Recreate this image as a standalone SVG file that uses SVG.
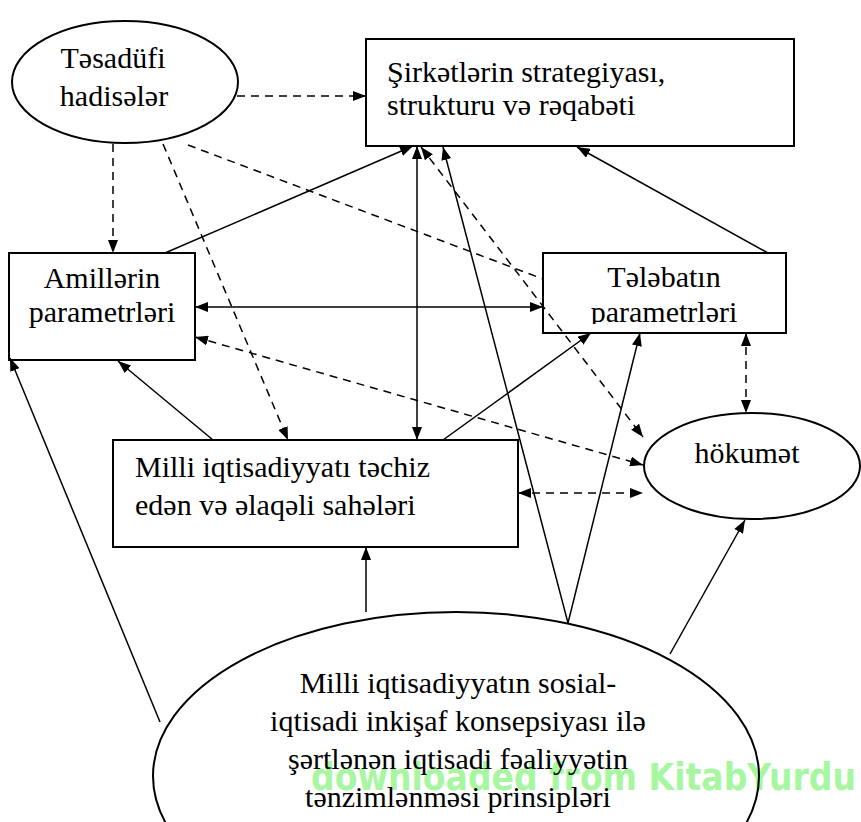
<svg xmlns="http://www.w3.org/2000/svg" width="861" height="822" viewBox="0 0 861 822">
<defs>
<style>
.shape{fill:#fff;stroke:#000;stroke-width:2}
.t{font-family:'Liberation Serif','Times New Roman',serif;font-size:30px;fill:#000}
.c{text-anchor:middle}
.ln{fill:none;stroke:#000;stroke-width:1.5}
.d{stroke-dasharray:8 6}
.wm{font-family:'DejaVu Sans',sans-serif;font-weight:bold;font-size:37px;fill:#a6f7a0}
</style>
<marker id="ah" viewBox="0 0 13 10" refX="13" refY="5" markerWidth="13" markerHeight="10" markerUnits="userSpaceOnUse" orient="auto-start-reverse">
<path d="M0,0 L13,5 L0,10 z" fill="#000"/>
</marker>
<clipPath id="clipT"><rect x="543" y="253" width="243" height="71"/></clipPath>
</defs>
<rect width="861" height="822" fill="#fff"/>

<text class="wm" x="311" y="790" textLength="545" lengthAdjust="spacingAndGlyphs">downloaded from KitabYurdu</text>

<g id="n-tesadufi">
<ellipse class="shape" cx="125" cy="82" rx="113" ry="61"/>
<text class="t c" x="113" y="68">Təsadüfi</text>
<text class="t c" x="114" y="106">hadisələr</text>
</g>

<g id="n-sirketler">
<rect class="shape" x="366" y="39" width="428" height="107"/>
<text class="t" x="387" y="82">Şirkətlərin strategiyası,</text>
<text class="t" x="387" y="115">strukturu və rəqabəti</text>
</g>

<g id="n-amiller">
<rect class="shape" x="9" y="253" width="186" height="107"/>
<text class="t c" x="102" y="288">Amillərin</text>
<text class="t c" x="102" y="322">parametrləri</text>
</g>

<g id="n-telebat">
<rect class="shape" x="543" y="253" width="243" height="80"/>
<g clip-path="url(#clipT)">
<text class="t c" x="664" y="287">Tələbatın</text>
<text class="t c" x="664" y="322">parametrləri</text>
</g>
</g>

<g id="n-milli-sahe">
<rect class="shape" x="113" y="440" width="405" height="107"/>
<text class="t" x="135" y="477">Milli iqtisadiyyatı təchiz</text>
<text class="t" x="135" y="515">edən və əlaqəli sahələri</text>
</g>

<g id="n-hokumet">
<ellipse class="shape" cx="752" cy="466" rx="108" ry="53"/>
<text class="t c" x="747" y="463">hökumət</text>
</g>

<g id="n-prinsipler">
<ellipse cx="456" cy="776" rx="303" ry="164" fill="none" stroke="#000" stroke-width="2"/>
<text class="t c" x="458" y="693">Milli iqtisadiyyatın sosial-</text>
<text class="t c" x="458" y="731">iqtisadi inkişaf konsepsiyası ilə</text>
<text class="t c" x="458" y="769">şərtlənən iqtisadi  fəaliyyətin</text>
<text class="t c" x="458" y="807">tənzimlənməsi prinsipləri</text>
</g>

<g id="connectors">
<path class="ln d" d="M237,96 H366" marker-end="url(#ah)"/>
<path class="ln d" d="M113,144 V253" marker-end="url(#ah)"/>
<path class="ln d" d="M163,144 L288,440" marker-end="url(#ah)"/>
<path class="ln d" d="M188,145 L543,279"/>
<path class="ln" d="M165,253 L413,146" marker-end="url(#ah)"/>
<path class="ln" d="M195,307 H543" marker-start="url(#ah)" marker-end="url(#ah)"/>
<path class="ln" d="M417,146 V440" marker-start="url(#ah)" marker-end="url(#ah)"/>
<path class="ln d" d="M195,337 L643,465" marker-start="url(#ah)" marker-end="url(#ah)"/>
<path class="ln" d="M213,440 L118,361" marker-end="url(#ah)"/>
<path class="ln" d="M443,440 L591,333" marker-end="url(#ah)"/>
<path class="ln d" d="M518,493 H643" marker-start="url(#ah)" marker-end="url(#ah)"/>
<path class="ln" d="M768,253 L577,147" marker-end="url(#ah)"/>
<path class="ln d" d="M746,333 V413" marker-start="url(#ah)" marker-end="url(#ah)"/>
<path class="ln d" d="M421,147 L643,437" marker-start="url(#ah)" marker-end="url(#ah)"/>
<path class="ln" d="M160,722 L10,358" marker-end="url(#ah)"/>
<path class="ln" d="M366,612 V547" marker-end="url(#ah)"/>
<path class="ln" d="M568,623 L443,147" marker-end="url(#ah)"/>
<path class="ln" d="M568,623 L640,333" marker-end="url(#ah)"/>
<path class="ln" d="M670,654 L745,520" marker-end="url(#ah)"/>
</g>
</svg>
